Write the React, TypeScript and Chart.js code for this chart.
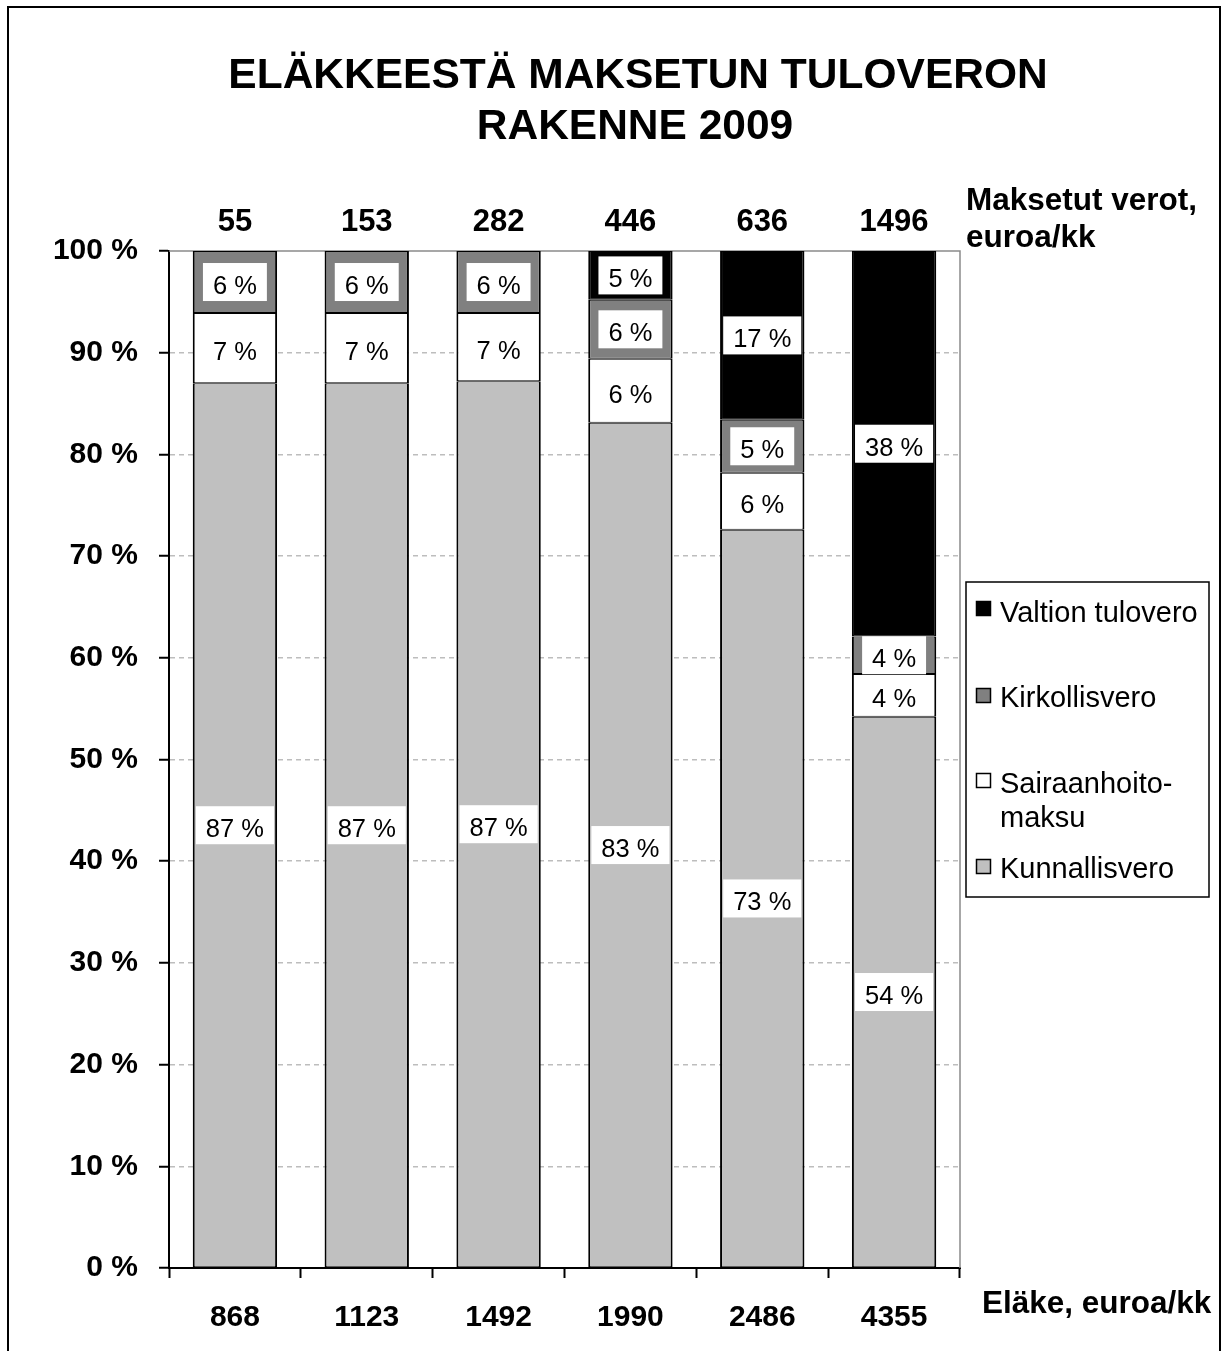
import React, { useEffect, useRef } from "react";
import { Chart, registerables } from "chart.js";

Chart.register(...registerables);

const categories = ["868", "1123", "1492", "1990", "2486", "4355"];
const taxPaid = [55, 153, 282, 446, 636, 1496];
const kunnallisvero = [87.0, 87.0, 87.2, 83.1, 72.6, 54.2];
const sairaanhoitomaksu = [6.9, 6.9, 6.7, 6.3, 5.6, 4.2];
const kirkollisvero = [6.1, 6.1, 6.1, 5.8, 5.2, 3.7];
const valtionTulovero = [0, 0, 0, 4.8, 16.6, 37.9];
const titleLines = ["ELÄKKEESTÄ MAKSETUN TULOVERON", "RAKENNE 2009"];
const topAxisTitle = ["Maksetut verot,", "euroa/kk"];
const xAxisTitle = "Eläke, euroa/kk";
const legendItems = [
  { lines: ["Valtion tulovero"], color: "#000000" },
  { lines: ["Kirkollisvero"], color: "#808080" },
  { lines: ["Sairaanhoito-", "maksu"], color: "#ffffff" },
  { lines: ["Kunnallisvero"], color: "#c0c0c0" },
];

const FONT = "'Liberation Sans', Arial, sans-serif";
const W = 1222;
const H = 1351;

const decorPlugin = {
  id: "decor",
  beforeDraw(chart: any) {
    const { ctx } = chart;
    ctx.save();
    ctx.fillStyle = "#ffffff";
    ctx.fillRect(0, 0, W, H);
    ctx.restore();
  },
  beforeDatasetsDraw(chart: any) {
    const { ctx, chartArea } = chart;
    ctx.save();
    ctx.strokeStyle = "#8a8a8a";
    ctx.lineWidth = 1.5;
    ctx.beginPath();
    ctx.moveTo(chartArea.left, chartArea.top);
    ctx.lineTo(chartArea.right, chartArea.top);
    ctx.lineTo(chartArea.right, chartArea.bottom);
    ctx.stroke();
    ctx.restore();
  },
  afterDatasetsDraw(chart: any) {
    const { ctx } = chart;
    ctx.save();
    // percentage labels
    ctx.font = `25.5px ${FONT}`;
    ctx.textAlign = "center";
    ctx.textBaseline = "alphabetic";
    chart.data.datasets.forEach((ds: any, di: number) => {
      const meta = chart.getDatasetMeta(di);
      meta.data.forEach((el: any, i: number) => {
        const v = ds.data[i];
        if (!v) return;
        const txt = Math.round(v) + " %";
        const cy = (el.y + el.base) / 2;
        const tw = ctx.measureText(txt).width;
        const bw = tw + 20;
        const bh = 38;
        ctx.fillStyle = "#ffffff";
        ctx.fillRect(el.x - bw / 2, cy - bh / 2, bw, bh);
        ctx.fillStyle = "#000000";
        ctx.fillText(txt, el.x, cy + 12);
      });
    });
    // tax paid labels above bars
    ctx.font = `bold 31px ${FONT}`;
    const meta0 = chart.getDatasetMeta(0);
    meta0.data.forEach((el: any, i: number) => {
      ctx.fillText(String(taxPaid[i]), el.x, 231);
    });
    // title
    ctx.font = `bold 42.5px ${FONT}`;
    ctx.fillText(titleLines[0], 638, 88);
    ctx.fillText(titleLines[1], 635, 139);
    // axis side titles
    ctx.font = `bold 31.5px ${FONT}`;
    ctx.textAlign = "left";
    ctx.fillText(topAxisTitle[0], 966, 210);
    ctx.fillText(topAxisTitle[1], 966, 247);
    ctx.fillText(xAxisTitle, 982, 1313);
    // legend
    ctx.strokeStyle = "#000000";
    ctx.lineWidth = 1.5;
    ctx.strokeRect(966, 582, 243, 315);
    const baselines = [[622], [707], [793, 827], [878]];
    const swatchTops = [601, 688, 773, 859];
    ctx.font = `29px ${FONT}`;
    legendItems.forEach((it, k) => {
      ctx.fillStyle = it.color;
      ctx.fillRect(976, swatchTops[k], 15, 15);
      ctx.lineWidth = 1.5;
      ctx.strokeStyle = "#000000";
      ctx.strokeRect(976.5, swatchTops[k] + 0.5, 14, 14);
      ctx.fillStyle = "#000000";
      it.lines.forEach((ln, j) => ctx.fillText(ln, 1000, baselines[k][j]));
    });
    // outer frame
    ctx.lineWidth = 2;
    ctx.strokeRect(8, 7, 1212, 1400);
    ctx.restore();
  },
};

export default function App() {
  const ref = useRef<HTMLCanvasElement | null>(null);
  useEffect(() => {
    if (!ref.current) return;
    const common = {
      borderColor: "#000000",
      borderWidth: { top: 1, bottom: 1, left: 2, right: 2 },
      borderSkipped: false,
      barPercentage: 0.64,
      categoryPercentage: 1.0,
    };
    const chart = new Chart(ref.current, {
      type: "bar",
      data: {
        labels: categories,
        datasets: [
          { label: "Kunnallisvero", data: kunnallisvero, backgroundColor: "#c0c0c0", ...common },
          { label: "Sairaanhoitomaksu", data: sairaanhoitomaksu, backgroundColor: "#ffffff", ...common },
          { label: "Kirkollisvero", data: kirkollisvero, backgroundColor: "#808080", ...common },
          { label: "Valtion tulovero", data: valtionTulovero, backgroundColor: "#000000", ...common },
        ],
      },
      options: {
        animation: false,
        responsive: false,
        maintainAspectRatio: false,
        devicePixelRatio: 1,
        layout: { padding: { left: 0, right: W - 960, top: 251, bottom: H - 1268 - 60 } },
        plugins: { legend: { display: false }, tooltip: { enabled: false }, title: { display: false } },
        scales: {
          x: {
            stacked: true,
            grid: {
              offset: true,
              drawOnChartArea: false,
              drawTicks: true,
              tickLength: 10,
              tickColor: "#000000",
              tickWidth: 2,
              color: "#000000",
            },
            border: { display: true, color: "#000000", width: 2 },
            ticks: {
              color: "#000000",
              font: { family: FONT, size: 30, weight: "bold" },
              padding: 22,
              maxRotation: 0,
              autoSkip: false,
            },
            afterFit: (s: any) => {
              s.height = 60;
            },
          },
          y: {
            stacked: true,
            min: 0,
            max: 100,
            grid: {
              color: (c: any) => (c.tick && (c.tick.value === 0 || c.tick.value === 100) ? "rgba(0,0,0,0)" : "#bdbdbd"),
              lineWidth: 1.5,
              tickColor: "#000000",
              tickWidth: 2,
              tickLength: 10,
              tickBorderDash: [],
            },
            border: { display: true, color: "#000000", width: 2, dash: [5, 4] },
            ticks: {
              stepSize: 10,
              color: "#000000",
              font: { family: FONT, size: 30, weight: "bold" },
              padding: 21,
              callback: (v: any) => v + " %",
            },
            afterFit: (s: any) => {
              s.width = 169;
            },
          },
        },
      },
      plugins: [decorPlugin],
    } as any);
    return () => chart.destroy();
  }, []);
  return (
    <div style={{ position: "fixed", left: 0, top: 0, width: W, height: H, background: "#fff" }}>
      <canvas ref={ref} width={W} height={H} style={{ width: W, height: H, display: "block" }} />
    </div>
  );
}
